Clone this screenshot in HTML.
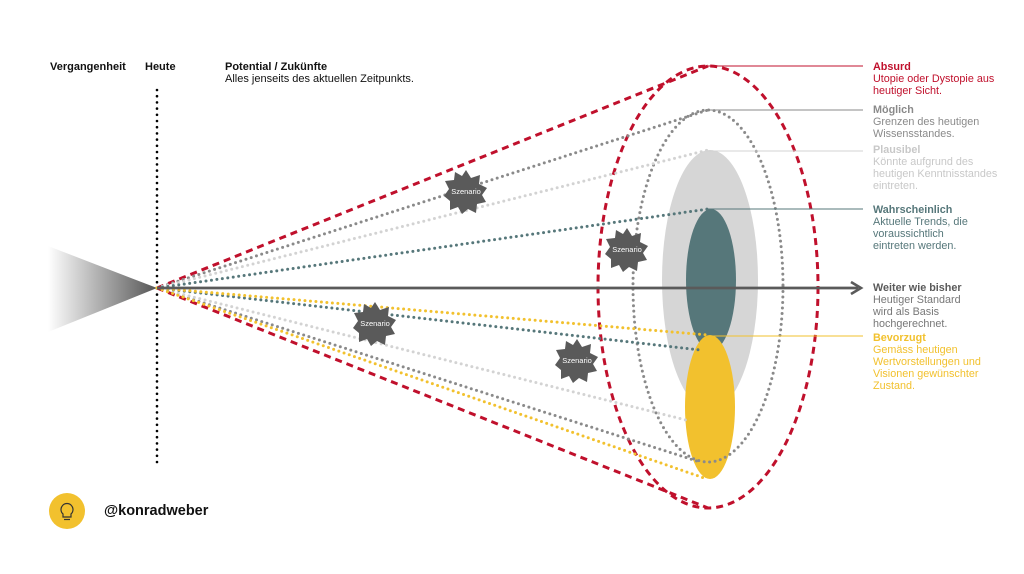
<!DOCTYPE html>
<html><head><meta charset="utf-8"><style>
body{margin:0;background:#fff;}
svg{display:block;font-family:"Liberation Sans",sans-serif;}
</style></head><body>
<svg width="1024" height="574" viewBox="0 0 1024 574" xmlns="http://www.w3.org/2000/svg">
<defs>
<linearGradient id="g" x1="0" x2="1" y1="0" y2="0"><stop offset="0" stop-color="#fff"/><stop offset="1" stop-color="#555"/></linearGradient>
</defs>
<rect width="1024" height="574" fill="#fff"/>
<polygon points="48,246 157,288 48,332" fill="url(#g)"/>
<line x1="157" y1="90" x2="157" y2="468" stroke="#000" stroke-width="2.6" stroke-dasharray="0 6.2" stroke-linecap="round"/>
<ellipse cx="710" cy="280" rx="48" ry="130" fill="#d6d6d6"/>
<ellipse cx="711" cy="280" rx="25" ry="71" fill="#56777a"/>
<ellipse cx="710" cy="407" rx="25" ry="72" fill="#f2c12e"/>
<ellipse cx="708" cy="286" rx="75" ry="176" fill="none" stroke="#8a8a8a" stroke-width="3" stroke-dasharray="0 5.5" stroke-linecap="round"/>
<ellipse cx="708" cy="287" rx="110" ry="221" fill="none" stroke="#c0102c" stroke-width="3" stroke-dasharray="7 5"/>
<g fill="none" stroke-width="3" stroke-linecap="round">
<line x1="157" y1="288" x2="708" y2="66" stroke="#c0102c" stroke-dasharray="7 5" stroke-linecap="butt"/>
<line x1="157" y1="288" x2="708" y2="508" stroke="#c0102c" stroke-dasharray="7 5" stroke-linecap="butt"/>
<line x1="157" y1="288" x2="708" y2="110" stroke="#8a8a8a" stroke-dasharray="0 5.5"/>
<line x1="157" y1="288" x2="700" y2="462" stroke="#8a8a8a" stroke-dasharray="0 5.5"/>
<line x1="157" y1="288" x2="708" y2="150" stroke="#d3d3d3" stroke-dasharray="0 5.5"/>
<line x1="157" y1="288" x2="686" y2="420" stroke="#d3d3d3" stroke-dasharray="0 5.5"/>
<line x1="157" y1="288" x2="708" y2="209" stroke="#56777a" stroke-dasharray="0 5.5"/>
<line x1="157" y1="288" x2="700" y2="350" stroke="#56777a" stroke-dasharray="0 5.5"/>
<line x1="157" y1="288" x2="708" y2="335" stroke="#f2c12e" stroke-dasharray="0 5.5"/>
<line x1="157" y1="288" x2="704" y2="478" stroke="#f2c12e" stroke-dasharray="0 5.5"/>
</g>
<line x1="157" y1="288" x2="858" y2="288" stroke="#5a5a5a" stroke-width="2.8"/>
<polyline points="851,282 861,288 851,294" fill="none" stroke="#5a5a5a" stroke-width="2.6"/>
<line x1="708" y1="66" x2="863" y2="66" stroke="#c0102c" stroke-width="1"/>
<line x1="708" y1="110" x2="863" y2="110" stroke="#8a8a8a" stroke-width="1"/>
<line x1="708" y1="151" x2="863" y2="151" stroke="#d3d3d3" stroke-width="1"/>
<line x1="708" y1="209" x2="863" y2="209" stroke="#56777a" stroke-width="1"/>
<line x1="708" y1="336" x2="863" y2="336" stroke="#f2c12e" stroke-width="1"/>
<g fill="#5a5a5a">
<polygon id="st" points="0,-22 5,-14 14,-17 13,-8 21,-4 16,3 20,10 11,12 10,21 2,17 -4,22 -8,15 -16,18 -16,9 -22,4 -17,-3 -21,-11 -12,-12 -11,-20 -4,-16" transform="translate(466,192)"/>
<use href="#st" transform="translate(161,58)"/>
<use href="#st" transform="translate(-91,132)"/>
<use href="#st" transform="translate(111,169)"/>
</g>
<g fill="#fff" font-size="7.5" text-anchor="middle">
<text x="466" y="194">Szenario</text><text x="627" y="252">Szenario</text>
<text x="375" y="326">Szenario</text><text x="577" y="363">Szenario</text>
</g>
<g font-size="11" fill="#111">
<text x="50" y="70" font-weight="bold">Vergangenheit</text>
<text x="145" y="70" font-weight="bold">Heute</text>
<text x="225" y="70" font-weight="bold">Potential / Zukünfte</text>
<text x="225" y="82">Alles jenseits des aktuellen Zeitpunkts.</text>
</g>
<g font-size="10.8">
<g fill="#c0102c"><text x="873" y="70" font-weight="bold">Absurd</text><text x="873" y="82">Utopie oder Dystopie aus</text><text x="873" y="94">heutiger Sicht.</text></g>
<g fill="#8a8a8a"><text x="873" y="113" font-weight="bold">Möglich</text><text x="873" y="125">Grenzen des heutigen</text><text x="873" y="137">Wissensstandes.</text></g>
<g fill="#c8c8c8"><text x="873" y="153" font-weight="bold">Plausibel</text><text x="873" y="165">Könnte aufgrund des</text><text x="873" y="177">heutigen Kenntnisstandes</text><text x="873" y="189">eintreten.</text></g>
<g fill="#56777a"><text x="873" y="213" font-weight="bold">Wahrscheinlich</text><text x="873" y="225">Aktuelle Trends, die</text><text x="873" y="237">voraussichtlich</text><text x="873" y="249">eintreten werden.</text></g>
<g fill="#5a5a5a"><text x="873" y="291" font-weight="bold">Weiter wie bisher</text><text x="873" y="303" fill="#777">Heutiger Standard</text><text x="873" y="315" fill="#777">wird als Basis</text><text x="873" y="327" fill="#777">hochgerechnet.</text></g>
<g fill="#f2c12e"><text x="873" y="341" font-weight="bold">Bevorzugt</text><text x="873" y="353">Gemäss heutigen</text><text x="873" y="365">Wertvorstellungen und</text><text x="873" y="377">Visionen gewünschter</text><text x="873" y="389">Zustand.</text></g>
</g>
<circle cx="67" cy="511" r="18" fill="#f2c12e"/>
<path d="M63,514 a6,6 0 1 1 8,0 l0,3 h-8 z" fill="none" stroke="#333" stroke-width="1.2"/>
<line x1="64" y1="519.5" x2="70" y2="519.5" stroke="#333" stroke-width="1.2"/>
<text x="104" y="515" font-size="14.5" font-weight="bold" fill="#111">@konradweber</text>
</svg>
</body></html>
